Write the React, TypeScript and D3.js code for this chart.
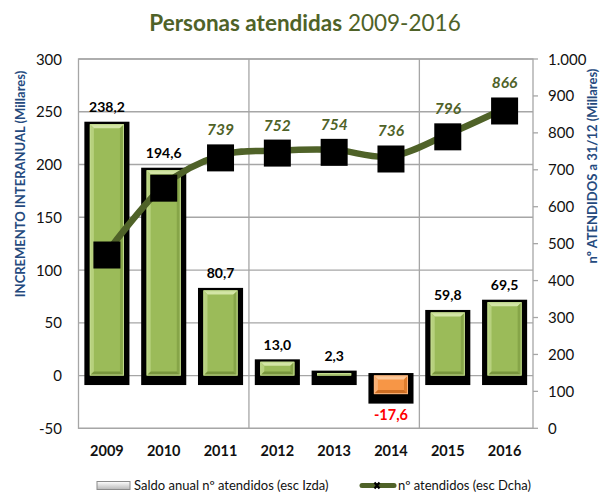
import React from 'react';
import * as d3 from 'd3';

const years = ['2009', '2010', '2011', '2012', '2013', '2014', '2015', '2016'];
const saldo = [238.2, 194.6, 80.7, 13.0, 2.3, -17.6, 59.8, 69.5];
const atendidos = [476, 657, 739, 752, 754, 736, 796, 866];
const atendidosShown = [false, false, true, true, true, true, true, true];
const leftTicks = [-50, 0, 50, 100, 150, 200, 250, 300];
const rightTicks = [0, 100, 200, 300, 400, 500, 600, 700, 800, 900, 1000];

const W = 610, H = 492;
const L = 78.5, R = 533, T = 59, B = 428.3;
const FONT = 'Lato, "Open Sans", sans-serif';
const OLIVE = '#4F6228';
const BLUE = '#254A7E';

const loc = d3.formatLocale({ decimal: ',', thousands: '.', grouping: [3], currency: ['', ''], minus: '-' });
const fmt1 = loc.format('.1f');
const fmtInt = loc.format(',d');

function Bevel({ x, y, w, h, c }: { x: number; y: number; w: number; h: number; c: string[] }) {
  const b = Math.max(0, Math.min(4, h / 2, w / 2));
  const p = (pts: number[][]) => pts.map((q) => q.join(',')).join(' ');
  return (
    <g>
      <rect x={x} y={y} width={w} height={h} fill={c[0]} />
      <polygon points={p([[x, y], [x + w, y], [x + w - b, y + b], [x + b, y + b]])} fill={c[1]} />
      <polygon points={p([[x, y], [x + b, y + b], [x + b, y + h - b], [x, y + h]])} fill={c[2]} />
      <polygon points={p([[x + w, y], [x + w - b, y + b], [x + w - b, y + h - b], [x + w, y + h]])} fill={c[3]} />
      <polygon points={p([[x, y + h], [x + b, y + h - b], [x + w - b, y + h - b], [x + w, y + h]])} fill={c[4]} />
      <rect x={x + 0.5} y={y + 0.5} width={Math.max(0, w - 1)} height={Math.max(0, h - 1)} fill="none" stroke={c[5]} strokeWidth={1} />
    </g>
  );
}

const GREEN = ['#9BBB59', '#D3E5A6', '#B7D17E', '#86A548', '#78953D', '#C2DA8E'];
const ORANGE = ['#F79646', '#FCC899', '#FAB074', '#E07E2E', '#CD6D22', '#FBB57C'];

export default function App() {
  const x = d3.scaleBand<string>().domain(years).range([L, R]).padding(0);
  const yL = d3.scaleLinear().domain([-50, 300]).range([B, T]);
  const yR = d3.scaleLinear().domain([0, 1000]).range([B, T]);
  const bw = x.bandwidth() * 0.6;
  const cx = (i: number) => (x(years[i]) as number) + x.bandwidth() / 2;

  const line = d3
    .line<number>()
    .x((_, i) => cx(i))
    .y((d) => yR(d))
    .curve(d3.curveCardinal.tension(0));

  const vGrid = [3, 6].map((i) => x(years[i]) as number);

  return (
    <svg width={W} height={H} style={{ position: 'absolute', left: 0, top: 0 }} fontFamily={FONT}>
      <defs>
        <linearGradient id="legG" x1="0" y1="0" x2="0" y2="1">
          <stop offset="0" stopColor="#FFFFFF" />
          <stop offset="1" stopColor="#B8B8B8" />
        </linearGradient>
      </defs>
      <rect x={0} y={0} width={W} height={H} fill="#fff" />
      {/* title */}
      <text x={305} y={31} textAnchor="middle" fontSize={22.5} fill={OLIVE}>
        <tspan fontWeight="bold">Personas atendidas</tspan>
        <tspan> 2009-2016</tspan>
      </text>

      {/* gridlines */}
      {leftTicks.map((t) => (
        <line key={'h' + t} x1={L} x2={R} y1={yL(t)} y2={yL(t)} stroke="#A6A6A6" strokeWidth={1.3} />
      ))}
      {vGrid.map((v, i) => (
        <line key={'v' + i} x1={v} x2={v} y1={T} y2={B} stroke="#A6A6A6" strokeWidth={1.3} />
      ))}
      <rect x={L} y={T} width={R - L} height={B - T} fill="none" stroke="#A6A6A6" strokeWidth={1.3} />
      {rightTicks.map((t) => (
        <line key={'rt' + t} x1={R} x2={R + 5} y1={yR(t)} y2={yR(t)} stroke="#A6A6A6" strokeWidth={1.3} />
      ))}

      {/* left ticks */}
      {leftTicks.map((t) => (
        <text key={'lt' + t} x={62} y={yL(t) + 5.5} textAnchor="end" fontSize={15} fill="#111">
          {fmtInt(t)}
        </text>
      ))}
      {/* right ticks */}
      {rightTicks.map((t) => (
        <text key={'rl' + t} x={548} y={yR(t) + 5.5} textAnchor="start" fontSize={15} fill="#111">
          {fmtInt(t)}
        </text>
      ))}
      {/* x labels */}
      {years.map((yr, i) => (
        <text key={'x' + yr} x={cx(i)} y={456} textAnchor="middle" fontSize={14.5} fontWeight="bold" fill="#111">
          {yr}
        </text>
      ))}

      {/* axis titles */}
      <text transform={`translate(22,184) rotate(-90)`} textAnchor="middle" dominantBaseline="middle" fontSize={13} fontWeight="bold" fill={BLUE}>
        INCREMENTO INTERANUAL (Millares)
      </text>
      <text transform={`translate(594,166) rotate(-90)`} textAnchor="middle" dominantBaseline="middle" fontSize={13} fontWeight="bold" fill={BLUE}>
        nº ATENDIDOS a 31/12 (Millares)
      </text>

      {/* bars */}
      {saldo.map((v, i) => {
        const x0 = cx(i) - bw / 2;
        const top = Math.min(yL(0), yL(v));
        const bot = Math.max(yL(0), yL(v));
        return (
          <g key={'b' + i}>
            <rect x={x0 - 5.5} y={top - 2.5} width={bw + 11} height={bot - top + 12} fill="#000" />
            <Bevel x={x0} y={top} w={bw} h={bot - top} c={v >= 0 ? GREEN : ORANGE} />
          </g>
        );
      })}
      {saldo.map((v, i) => {
        const top = Math.min(yL(0), yL(v));
        const bot = Math.max(yL(0), yL(v));
        return v >= 0 ? (
          <text key={'bl' + i} x={cx(i)} y={top - 12} textAnchor="middle" fontSize={14} fontWeight="bold" fill="#000">
            {fmt1(v)}
          </text>
        ) : (
          <text key={'bl' + i} x={cx(i)} y={bot + 26} textAnchor="middle" fontSize={14.5} fontWeight="bold" fill="#FF0000">
            {fmt1(v)}
          </text>
        );
      })}

      {/* line */}
      <path d={line(atendidos) as string} fill="none" stroke={OLIVE} strokeWidth={6.5} />
      {atendidos.map((v, i) => (
        <rect key={'m' + i} x={cx(i) - 13.5} y={yR(v) + 2.5 - 13.5} width={27} height={27} fill="#000" />
      ))}
      {atendidos.map((v, i) =>
        atendidosShown[i] ? (
          <text key={'ml' + i} x={cx(i)} y={yR(v) - 20} textAnchor="middle" fontSize={15.5} fontWeight="bold" fontStyle="italic" fill={OLIVE}>
            {fmtInt(v)}
          </text>
        ) : null
      )}

      {/* legend */}
      <rect x={97} y={481.5} width={33} height={8} fill="url(#legG)" stroke="#8C8C8C" strokeWidth={1} />
      <text x={134} y={489.5} fontSize={13} fill="#111">
        Saldo anual nº atendidos (esc Izda)
      </text>
      <line x1={362} x2={394} y1={485.5} y2={485.5} stroke={OLIVE} strokeWidth={5} strokeLinecap="round" />
      <path d="M374.5,482.5 L379.5,488.5 M379.5,482.5 L374.5,488.5" stroke="#000" strokeWidth={2.2} />
      <text x={398} y={489.5} fontSize={13} fill="#111">
        nº atendidos (esc Dcha)
      </text>
    </svg>
  );
}
